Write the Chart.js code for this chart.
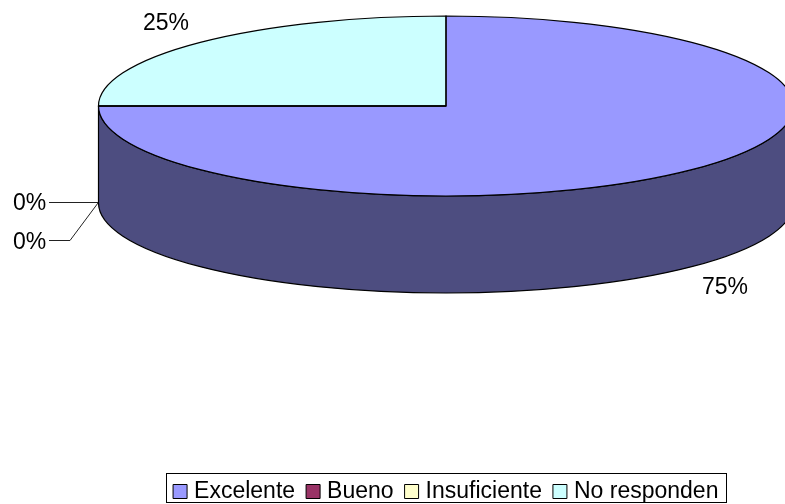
<!DOCTYPE html>
<html>
<head>
<meta charset="utf-8">
<style>
  html, body { margin: 0; padding: 0; background: #fff; }
  #wrap { position: relative; width: 785px; height: 504px; overflow: hidden; }
</style>
<script src="https://cdn.jsdelivr.net/npm/chart.js@4"></script>
</head>
<body>
<div id="wrap"><canvas id="chart" width="785" height="504"></canvas></div>
<script>
  const categories = ['Excelente', 'Bueno', 'Insuficiente', 'No responden'];
  const shares = [75, 0, 0, 25];
  const topColors = ['#9999FF', '#993366', '#FFFFCC', '#CCFFFF'];
  const wallColors = ['#4D4D80', '#4D1A33', '#808066', '#668080'];

  // 화면상의 타원 크기 (3D 파이)
  const pie = { cx: 446, cy: 106, rx: 347.5, ry: 90, depth: 97 };
  const fontName = '"Liberation Sans", Arial, sans-serif';
  const fontPx = 23;

  function percentText(i) {
    const total = shares.reduce((a, b) => a + b, 0);
    return Math.round(shares[i] / total * 100) + '%';
  }

  // 옆면 + 납작하게 눌러서 그리는 윗면
  const pie3d = {
    id: 'pie3d',
    beforeDatasetsDraw(chart) {
      const ctx = chart.ctx;
      const arcs = chart.getDatasetMeta(0).data;
      ctx.save();
      ctx.strokeStyle = '#000';
      ctx.lineWidth = 1.2;
      arcs.forEach((arc, i) => {
        const a0 = Math.max(arc.startAngle, 0);
        const a1 = Math.min(arc.endAngle, Math.PI);
        if (a1 <= a0) return;
        ctx.beginPath();
        ctx.ellipse(pie.cx, pie.cy, pie.rx, pie.ry, 0, a0, a1);
        ctx.ellipse(pie.cx, pie.cy + pie.depth, pie.rx, pie.ry, 0, a1, a0, true);
        ctx.closePath();
        ctx.fillStyle = wallColors[i];
        ctx.fill();
        ctx.stroke();
      });
      ctx.restore();

      const first = arcs[0];
      ctx.save();
      ctx.translate(pie.cx, pie.cy);
      ctx.scale(pie.rx / first.outerRadius, pie.ry / first.outerRadius);
      ctx.translate(-first.x, -first.y);
    },
    afterDatasetsDraw(chart) {
      const ctx = chart.ctx;
      ctx.restore();
      ctx.save();
      ctx.strokeStyle = '#000';
      ctx.lineWidth = 1.2;
      chart.getDatasetMeta(0).data.forEach(arc => {
        ctx.beginPath();
        ctx.moveTo(pie.cx, pie.cy);
        ctx.ellipse(pie.cx, pie.cy, pie.rx, pie.ry, 0, arc.startAngle, arc.endAngle);
        ctx.closePath();
        ctx.stroke();
      });
      ctx.restore();
    },
    afterDraw(chart) {
      const ctx = chart.ctx;
      ctx.save();
      // 0% 라벨 지시선
      ctx.strokeStyle = '#222';
      ctx.lineWidth = 1;
      ctx.beginPath();
      ctx.moveTo(49, 202.5);
      ctx.lineTo(98, 202.5);
      ctx.moveTo(49, 240.5);
      ctx.lineTo(70, 240.5);
      ctx.lineTo(98, 203);
      ctx.stroke();

      ctx.fillStyle = '#000';
      ctx.font = fontPx + 'px ' + fontName;
      ctx.textAlign = 'center';
      ctx.textBaseline = 'middle';
      ctx.fillText(percentText(3), 166, 24);
      ctx.fillText(percentText(0), 725, 288);
      ctx.fillText(percentText(1), 29.5, 204);
      ctx.fillText(percentText(2), 29.5, 243);

      // 범례 테두리
      ctx.strokeStyle = '#000';
      ctx.strokeRect(166.5, 473.5, 560, 29);
      ctx.restore();
    }
  };

  new Chart(document.getElementById('chart'), {
    type: 'pie',
    data: {
      labels: categories,
      datasets: [{
        data: shares,
        backgroundColor: topColors,
        borderWidth: 0,
        clip: false
      }]
    },
    options: {
      responsive: false,
      animation: false,
      layout: { padding: { left: 111, bottom: -9 } },
      plugins: {
        tooltip: { enabled: false },
        legend: {
          position: 'bottom',
          labels: {
            color: '#000',
            font: { size: fontPx, family: fontName },
            usePointStyle: true,
            boxWidth: 5,
            boxHeight: 14,
            padding: 15.5,
            generateLabels(chart) {
              return Chart.overrides.pie.plugins.legend.labels.generateLabels(chart).map(item => {
                item.strokeStyle = '#000';
                item.lineWidth = 1;
                item.pointStyle = 'rect';
                return item;
              });
            }
          }
        }
      }
    },
    plugins: [pie3d]
  });
</script>
</body>
</html>
